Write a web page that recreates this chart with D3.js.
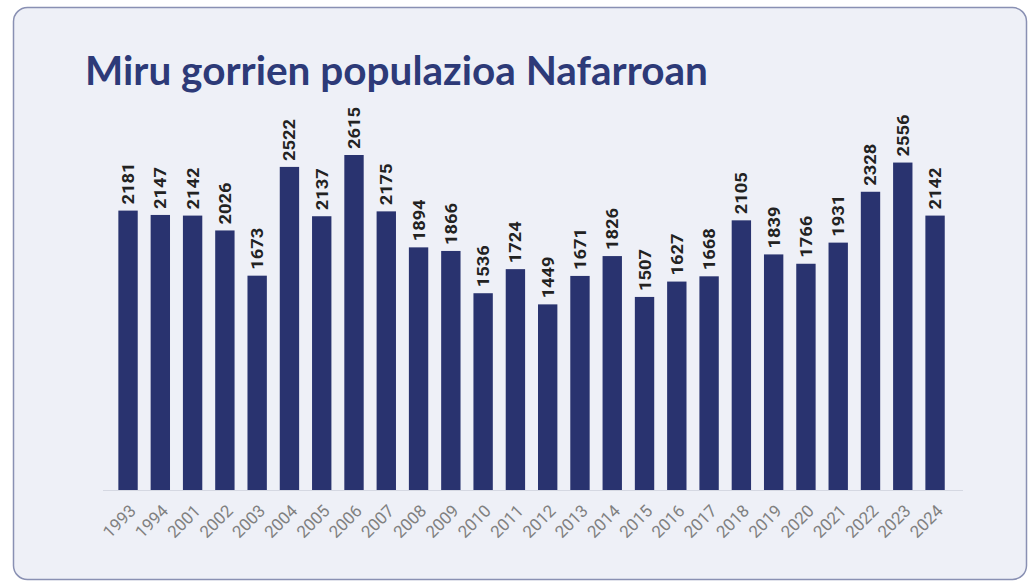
<!DOCTYPE html>
<html>
<head>
<meta charset="utf-8">
<script src="https://cdn.jsdelivr.net/npm/d3@7"></script>
<style>
  body { margin: 0; background: #ffffff; }
  svg { display: block; }
</style>
</head>
<body>
<div id="chart"></div>
<script>
// data
const years = ['1993', '1994', '2001', '2002', '2003', '2004', '2005', '2006', '2007', '2008', '2009', '2010', '2011', '2012', '2013', '2014', '2015', '2016', '2017', '2018', '2019', '2020', '2021', '2022', '2023', '2024'];
const counts = [2181, 2147, 2142, 2026, 1673, 2522, 2137, 2615, 2175, 1894, 1866, 1536, 1724, 1449, 1671, 1826, 1507, 1627, 1668, 2105, 1839, 1766, 1931, 2328, 2556, 2142];
const title = "Miru gorrien populazioa Nafarroan";

const width = 1033, height = 583;

const svg = d3.select("#chart")
    .append("svg")
    .attr("width", width)
    .attr("height", height);

// card
svg.append("rect")
    .attr("x", 13.5).attr("y", 7.5)
    .attr("width", 1013).attr("height", 572)
    .attr("rx", 14)
    .attr("fill", "#eef0f7")
    .attr("stroke", "#8990b3")
    .attr("stroke-width", 1.5);

// title, stretched to the width seen in the picture
let titleText = svg.append("text")
    .attr("x", 85).attr("y", 85)
    .style("font-family", "Lato, 'Open Sans', sans-serif")
    .style("font-weight", 700)
    .style("font-size", "34px")
    .attr("fill", "#2d3a78")
    .text(title);
let tw = titleText.node().getComputedTextLength();
titleText.style("font-size", (34 * 623 / tw) + "px");

let x = d3.scaleBand()
    .domain(years)
    .range([111.9, 951.2])
    .paddingInner(0.4)
    .paddingOuter(0.2);

let y = d3.scaleLinear()
    .domain([0, 2615])
    .range([490, 155]);

// baseline
svg.append("line")
    .attr("x1", 103).attr("x2", 963)
    .attr("y1", y(0) + 0.5).attr("y2", y(0) + 0.5)
    .attr("stroke", "#d5d8e2")
    .attr("stroke-width", 1);

let data = years.map(function (d, i) { return { year: d, value: counts[i] }; });

svg.selectAll("rect.bar")
    .data(data)
    .enter()
    .append("rect")
    .attr("class", "bar")
    .attr("x", function (d) { return x(d.year); })
    .attr("y", function (d) { return y(d.value); })
    .attr("width", x.bandwidth())
    .attr("height", function (d) { return y(0) - y(d.value); })
    .attr("fill", "#29336f");

// value labels, vertical above the bars, stretched along the baseline for a condensed look
svg.selectAll("text.value")
    .data(data)
    .enter()
    .append("text")
    .attr("class", "value")
    .style("font-family", "Roboto, sans-serif")
    .style("font-weight", 700)
    .style("font-size", "17px")
    .attr("fill", "#222222")
    .text(function (d) { return d.value; })
    .attr("transform", function (d) {
        let s = 42 / this.getComputedTextLength();
        return `translate(${x(d.year) + x.bandwidth() / 2 + 6}, ${y(d.value) - 6}) rotate(-90) scale(${s}, 1)`;
    });

// year labels at -45 degrees
let xAxis = svg.append("g")
    .attr("transform", `translate(0, ${y(0)})`)
    .call(d3.axisBottom(x).tickSize(0).tickPadding(0));
xAxis.select(".domain").remove();
xAxis.selectAll("text")
    .attr("y", 0)
    .attr("dy", 0)
    .attr("transform", "translate(9, 22) rotate(-45)")
    .style("text-anchor", "end")
    .style("font-family", "Roboto, sans-serif")
    .style("font-size", "17px")
    .attr("fill", "#808080");
</script>
</body>
</html>
